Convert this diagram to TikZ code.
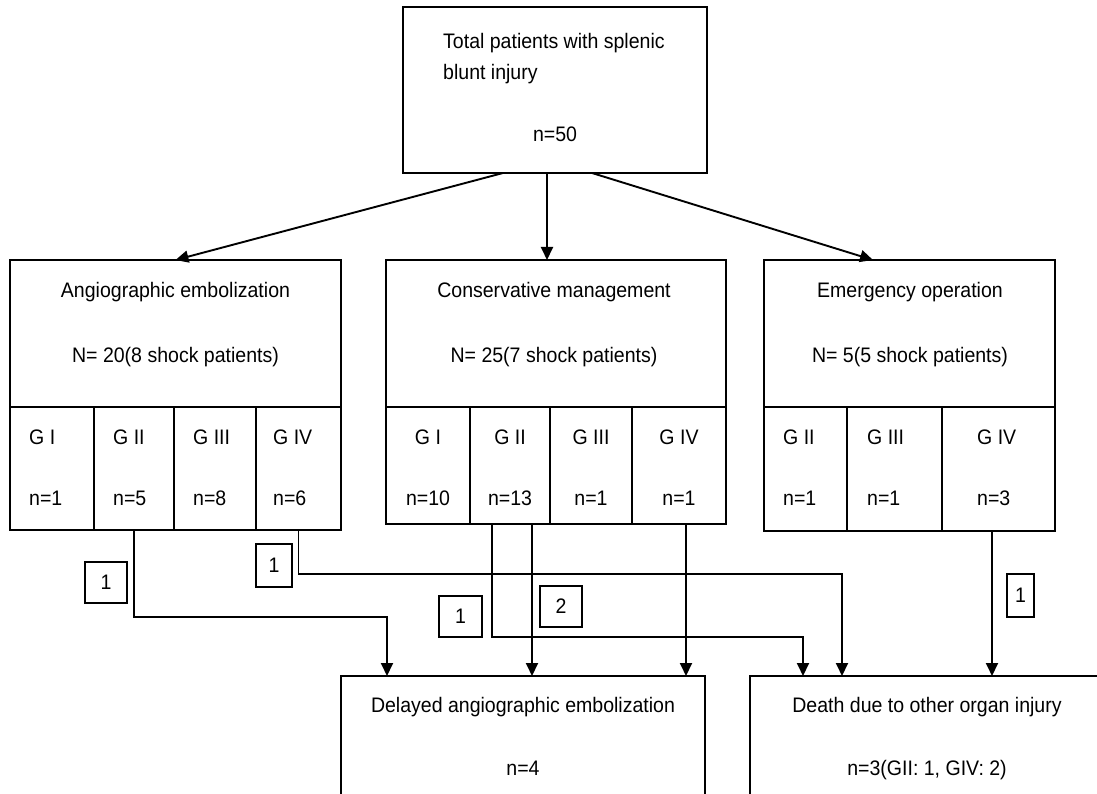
\documentclass[tikz,border=0pt]{standalone}
\usepackage{fontspec}
\setmainfont{Liberation Sans}[FakeStretch=0.93]
\usetikzlibrary{arrows.meta,calc}
\begin{document}
\begin{tikzpicture}[x=1pt,y=-1pt,
  box/.style={draw, line width=1.9pt, inner sep=0pt, outer sep=0pt, anchor=north west},
  lbl/.style={inner sep=0pt, anchor=base, font=\fontsize{21}{25}\selectfont},
  lbll/.style={lbl, anchor=base west},
  arr/.style={line width=1.9pt, -{Triangle[length=13pt,width=12pt]}},
  numbox/.style={draw, line width=1.9pt, inner sep=0pt, outer sep=0pt, font=\fontsize{21}{25}\selectfont}]
\useasboundingbox (0,0) rectangle (1097,794);
\clip (0,0) rectangle (1097,794);
\fill[white] (0,0) rectangle (1097,794);

% main boxes
\node[box, minimum width=304pt, minimum height=166pt] (top) at (403,7) {};
\node[box, minimum width=331pt, minimum height=147pt] (angio) at (10,260) {};
\node[box, minimum width=340pt, minimum height=147pt] (cons) at (386,260) {};
\node[box, minimum width=291pt, minimum height=147pt] (emerg) at (764,260) {};
\node[box, minimum width=364pt, minimum height=130pt] (delayed) at (341,676) {};
\node[box, minimum width=354pt, minimum height=130pt] (death) at (750,676) {};

% cells
\node[box, minimum width=84pt, minimum height=123pt] (aG1) at (10,407) {};
\node[box, minimum width=80pt, minimum height=123pt] (aG2) at (94,407) {};
\node[box, minimum width=82pt, minimum height=123pt] (aG3) at (174,407) {};
\node[box, minimum width=85pt, minimum height=123pt] (aG4) at (256,407) {};

\node[box, minimum width=84pt, minimum height=117pt] (cG1) at (386,407) {};
\node[box, minimum width=80pt, minimum height=117pt] (cG2) at (470,407) {};
\node[box, minimum width=82pt, minimum height=117pt] (cG3) at (550,407) {};
\node[box, minimum width=94pt, minimum height=117pt] (cG4) at (632,407) {};

\node[box, minimum width=83pt, minimum height=124pt] (eG2) at (764,407) {};
\node[box, minimum width=95pt, minimum height=124pt] (eG3) at (847,407) {};
\node[box, minimum width=113pt, minimum height=124pt] (eG4) at (942,407) {};

% texts
\node[lbll] (t1) at (443,49) {Total patients with splenic};
\node[lbll] (t2) at (443,80) {blunt injury};
\node[lbl] (t3) at (555,142) {n=50};

\node[lbl] (at1) at (175.5,298) {Angiographic embolization};
\node[lbl] (at2) at (175.5,362) {N= 20(8 shock patients)};
\node[lbl] (ct1) at (554,298) {Conservative management};
\node[lbl] (ct2) at (554,362) {N= 25(7 shock patients)};
\node[lbl] (et1) at (910,298) {Emergency operation};
\node[lbl] (et2) at (910,362) {N= 5(5 shock patients)};

\node[lbll] (a1g) at (29,444) {G I};   \node[lbll] (a1n) at (29,505) {n=1};
\node[lbll] (a2g) at (113,444) {G II}; \node[lbll] (a2n) at (113,505) {n=5};
\node[lbll] (a3g) at (193,444) {G III};\node[lbll] (a3n) at (193,505) {n=8};
\node[lbll] (a4g) at (273,444) {G IV}; \node[lbll] (a4n) at (273,505) {n=6};

\node[lbl] (c1g) at (428,444) {G I};   \node[lbl] (c1n) at (428,505) {n=10};
\node[lbl] (c2g) at (510,444) {G II};  \node[lbl] (c2n) at (510,505) {n=13};
\node[lbl] (c3g) at (591,444) {G III}; \node[lbl] (c3n) at (591,505) {n=1};
\node[lbl] (c4g) at (679,444) {G IV};  \node[lbl] (c4n) at (679,505) {n=1};

\node[lbll] (e2g) at (783,444) {G II};  \node[lbll] (e2n) at (783,505) {n=1};
\node[lbll] (e3g) at (867,444) {G III}; \node[lbll] (e3n) at (867,505) {n=1};
\node[lbll] (e4g) at (977,444) {G IV};  \node[lbll] (e4n) at (977,505) {n=3};

\node[lbl] (dt1) at (523,712) {Delayed angiographic embolization};
\node[lbl] (dt2) at (523,775) {n=4};
\node[lbl] (xt1) at (927,712) {Death due to other organ injury};
\node[lbl] (xt2) at (927,775) {n=3(GII: 1, GIV: 2)};

% connectors from top
\draw[arr] ([xshift=-52pt]top.south) -- (angio.north);
\draw[arr] ([xshift=-8pt]top.south) -- ([xshift=-8pt]top.south |- cons.north);
\draw[arr] ([xshift=37pt]top.south) -- ([xshift=-36.5pt]emerg.north);

% connectors to outcomes
\draw[arr] (aG2.south) -- ++(0,87) -| ([xshift=46pt]delayed.north west);
\draw[arr] (aG4.south) -- ++(0,44) -| ([xshift=92pt]death.north west);
\draw[arr] ([xshift=-18pt]cG2.south) -- ++(0,113) -| ([xshift=53pt]death.north west);
\draw[arr] ([xshift=22pt]cG2.south) -- ([xshift=22pt]cG2.south |- delayed.north);
\draw[arr] ([xshift=7pt]cG4.south) -- ([xshift=7pt]cG4.south |- delayed.north);
\draw[arr] ([xshift=-6.5pt]eG4.south) -- ([xshift=-6.5pt]eG4.south |- death.north);

% count boxes
\node[numbox, minimum width=42pt, minimum height=41pt] (k1) at (106,582.5) {1};
\node[numbox, minimum width=36pt, minimum height=43pt] (k2) at (274,565.5) {1};
\node[numbox, minimum width=43pt, minimum height=41pt] (k3) at (460.5,616.5) {1};
\node[numbox, minimum width=42pt, minimum height=41pt] (k4) at (561,606.5) {2};
\node[numbox, minimum width=27pt, minimum height=43pt] (k5) at (1020.5,595.5) {1};
\end{tikzpicture}
\end{document}
